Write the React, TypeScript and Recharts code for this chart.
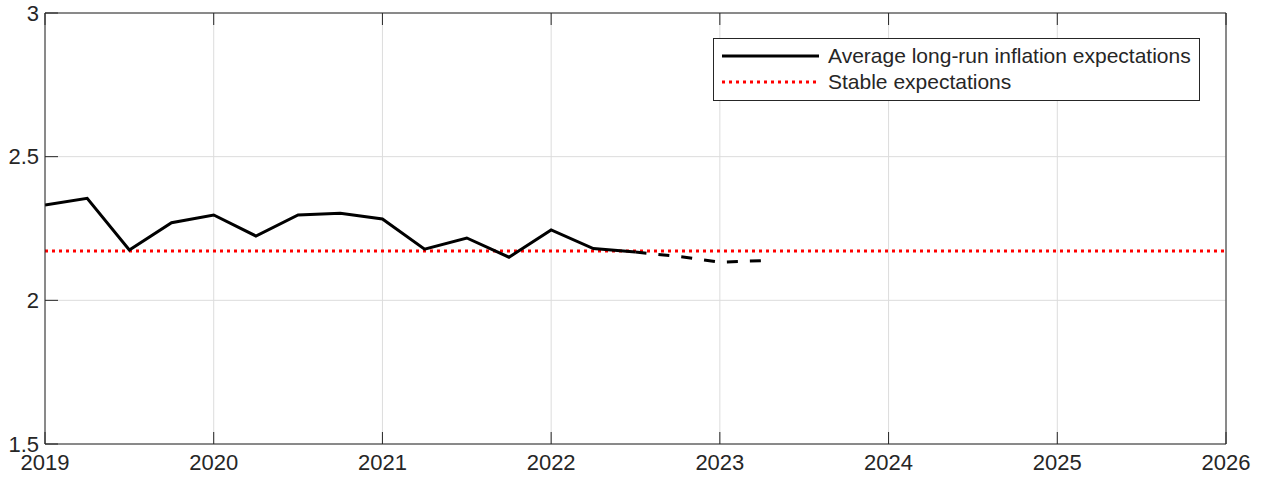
import React from 'react';
import { LineChart, Line, XAxis, YAxis, CartesianGrid, ReferenceLine } from 'recharts';

// quarterly observations
const actualDates = [2019, 2019.25, 2019.5, 2019.75, 2020, 2020.25, 2020.5, 2020.75, 2021, 2021.25, 2021.5, 2021.75, 2022, 2022.25, 2022.5];
const actualValues = [2.332, 2.355, 2.175, 2.27, 2.297, 2.224, 2.297, 2.303, 2.283, 2.178, 2.217, 2.15, 2.245, 2.18, 2.168];

// projected tail (dashed)
const projectedDates = [2022.5, 2022.75, 2023, 2023.25];
const projectedValues = [2.168, 2.153, 2.133, 2.138];

const stableLevel = 2.172;

const xTicks = [2019, 2020, 2021, 2022, 2023, 2024, 2025, 2026];
const yTicks = [1.5, 2, 2.5, 3];

const legendItems = ['Average long-run inflation expectations', 'Stable expectations'];

const allDates = Array.from(new Set([...actualDates, ...projectedDates])).sort((a, b) => a - b);
const data = allDates.map(d => {
  const ai = actualDates.indexOf(d);
  const pi = projectedDates.indexOf(d);
  return {
    date: d,
    actual: ai >= 0 ? actualValues[ai] : null,
    projected: pi >= 0 ? projectedValues[pi] : null,
  };
});

const axisColor = '#262626';
const font = 'Liberation Sans, Arial, sans-serif';

export default function App() {
  return (
    <div style={{ position: 'absolute', left: 0, top: 0, width: 1265, height: 478, background: '#fff', fontFamily: font }}>
      <LineChart width={1265} height={478} data={data} margin={{ top: 12, right: 38, bottom: 0, left: 0 }}>
        <CartesianGrid xAxisId="bottom" yAxisId="left" stroke="#dcdcdc" strokeWidth={1} />
        <XAxis
          xAxisId="bottom"
          dataKey="date"
          type="number"
          domain={[2019, 2026]}
          ticks={xTicks}
          allowDataOverflow
          height={34}
          stroke={axisColor}
          tickSize={-12}
          tickMargin={22}
          tick={{ fill: axisColor, fontSize: 22, fontFamily: font }}
          interval={0}
        />
        <XAxis
          xAxisId="top"
          orientation="top"
          dataKey="date"
          type="number"
          domain={[2019, 2026]}
          ticks={xTicks}
          allowDataOverflow
          height={1}
          stroke={axisColor}
          tickSize={-12}
          tickFormatter={() => ''}
          interval={0}
        />
        <YAxis
          yAxisId="left"
          domain={[1.5, 3]}
          ticks={yTicks}
          width={45}
          stroke={axisColor}
          tickSize={-13}
          tickMargin={19}
          tick={{ fill: axisColor, fontSize: 22, fontFamily: font }}
          tickFormatter={(v: number) => String(v)}
          interval={0}
        />
        <YAxis
          yAxisId="right"
          orientation="right"
          domain={[1.5, 3]}
          ticks={yTicks}
          width={1}
          stroke={axisColor}
          tickSize={-13}
          tickFormatter={() => ''}
          interval={0}
        />
        <ReferenceLine
          xAxisId="bottom"
          yAxisId="left"
          y={stableLevel}
          stroke="#ff0000"
          strokeWidth={3}
          strokeDasharray="3 4"
        />
        <Line
          xAxisId="bottom"
          yAxisId="left"
          dataKey="actual"
          stroke="#000"
          strokeWidth={3}
          dot={false}
          connectNulls={false}
          isAnimationActive={false}
        />
        <Line
          xAxisId="bottom"
          yAxisId="left"
          dataKey="projected"
          stroke="#000"
          strokeWidth={3}
          strokeDasharray="11 12"
          dot={false}
          connectNulls={false}
          isAnimationActive={false}
        />
      </LineChart>
      <div
        style={{
          position: 'absolute',
          left: 713,
          top: 38,
          width: 485,
          height: 61,
          border: '1px solid #262626',
          background: '#fff',
          boxSizing: 'content-box',
        }}
      >
        {legendItems.map((label, i) => (
          <div key={label} style={{ position: 'absolute', left: 8, top: 4 + i * 26, height: 26, display: 'flex', alignItems: 'center' }}>
            <svg width={97} height={6} style={{ display: 'block' }}>
              {i === 0 ? (
                <line x1={0} y1={3} x2={97} y2={3} stroke="#000" strokeWidth={3} />
              ) : (
                <line x1={0} y1={3} x2={97} y2={3} stroke="#ff0000" strokeWidth={3} strokeDasharray="3 4" />
              )}
            </svg>
            <span style={{ marginLeft: 9, fontSize: 21, color: axisColor, whiteSpace: 'nowrap' }}>{label}</span>
          </div>
        ))}
      </div>
    </div>
  );
}
